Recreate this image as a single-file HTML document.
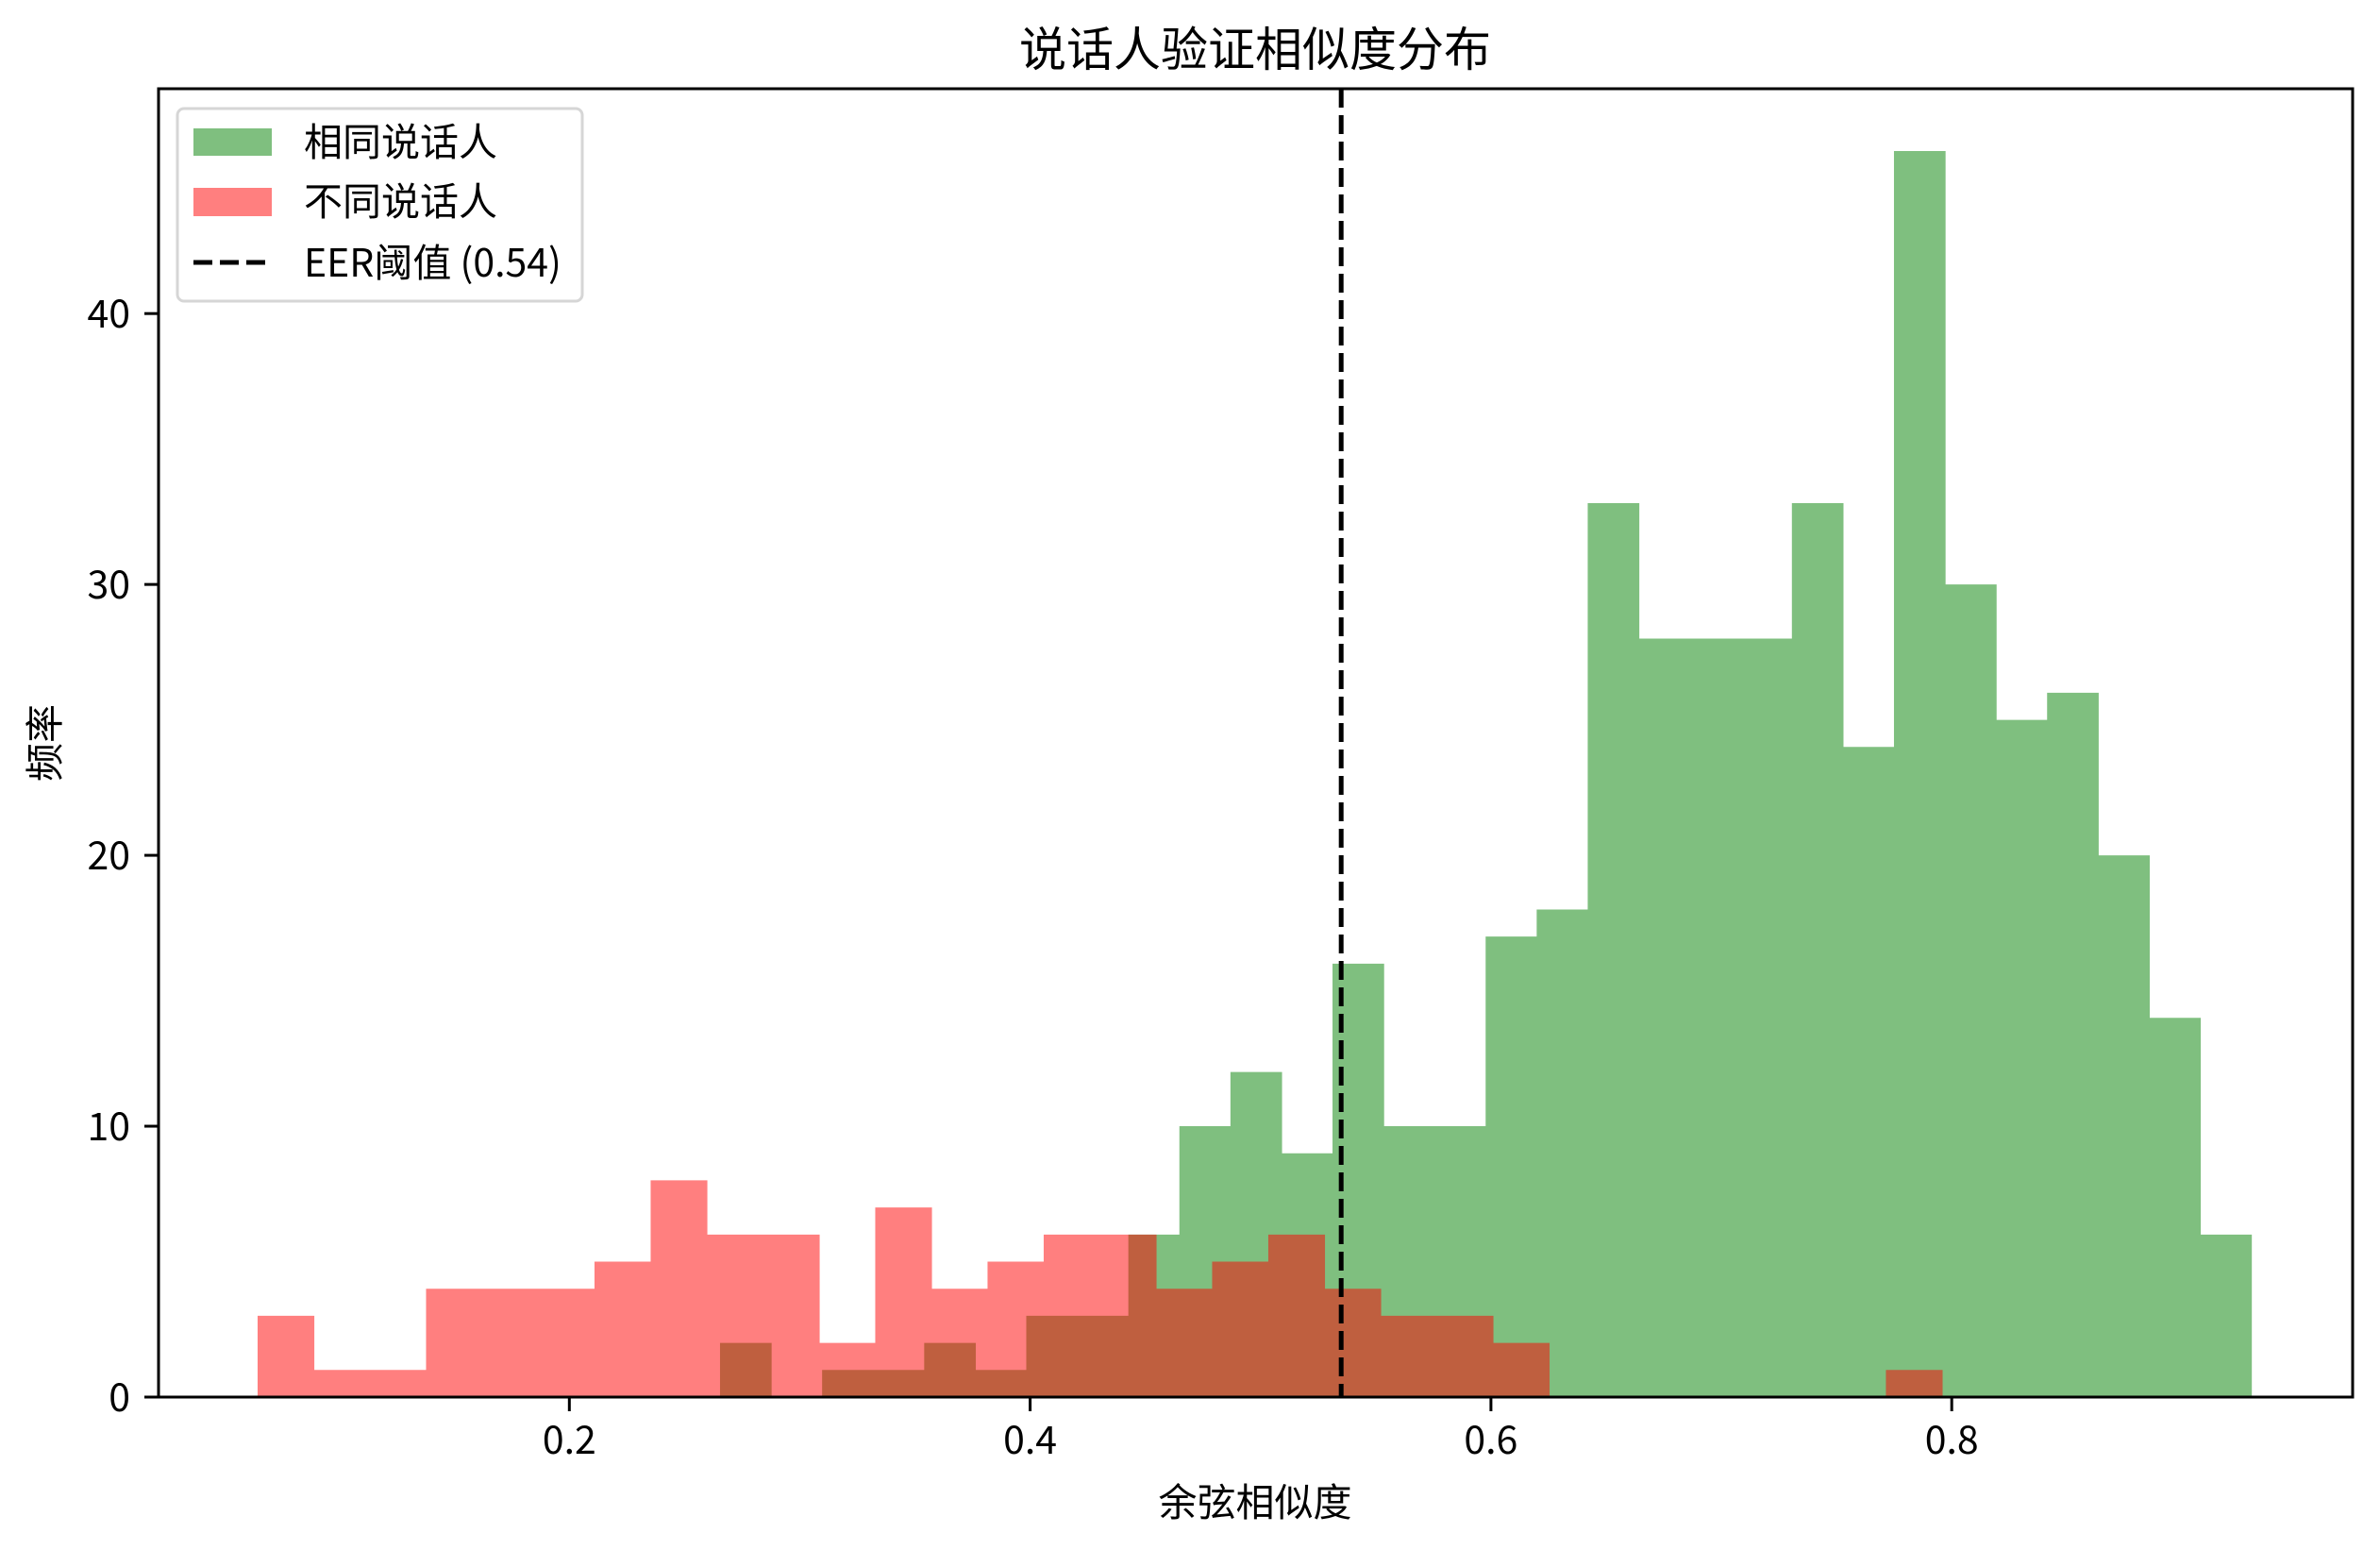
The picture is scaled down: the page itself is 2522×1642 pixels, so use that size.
<!DOCTYPE html>
<html><head><meta charset="utf-8"><style>
html,body{margin:0;padding:0;background:#fff;}
svg{display:block;font-family:"Noto Sans CJK SC","Liberation Sans",sans-serif;}
</style></head><body>
<svg id="chart" width="2522" height="1642" viewBox="0 0 2522 1642" xmlns="http://www.w3.org/2000/svg">
<rect width="2522" height="1642" fill="#fff"/>
<g id="bars"></g>
<g id="axes"></g>
<text x="1330" y="70" font-size="50" text-anchor="middle">说话人验证相似度分布</text>
<text x="1330" y="1606" font-size="41" text-anchor="middle">余弦相似度</text>
<text x="0" y="0" font-size="41" text-anchor="middle" transform="translate(62,787) rotate(-90)">频率</text>
<g>
<rect x="188" y="115" width="429" height="204" rx="7" fill="#fff" fill-opacity="0.8" stroke="#d6d6d6" stroke-width="3"/>
<rect x="205" y="136" width="83" height="29" fill="#008000" fill-opacity="0.5"/>
<text x="322" y="165" font-size="41">相同说话人</text>
<rect x="205" y="199" width="83" height="30" fill="#ff0000" fill-opacity="0.5"/>
<text x="322" y="228" font-size="41">不同说话人</text>
<line x1="205" y1="278" x2="288" y2="278" stroke="#000" stroke-width="5" stroke-dasharray="20,8"/>
<text x="322" y="293" font-size="41">EER阈值 (0.54)</text>
</g>
</svg>
<script>
const sameCounts = [2,0,1,1,2,1,3,3,6,10,12,9,16,10,10,17,18,33,28,28,28,33,24,46,30,25,26,20,14,6];
const sameMin = 0.2654, sameMax = 0.930;
const diffCounts = [3,1,1,4,4,4,5,8,6,6,2,7,4,5,6,6,4,5,6,4,3,3,2,0,0,0,0,0,0,1];
const diffMin = 0.0647, diffBinWidth = 0.02437;
const eerThreshold = 0.535;
const xTicks = [0.2,0.4,0.6,0.8];
const xTickLabels = ["0.2","0.4","0.6","0.8"];
const yTicks = [0,10,20,30,40];
const yTickLabels = ["0","10","20","30","40"];

const NS = "http://www.w3.org/2000/svg";
const L = 168, R = 2493, T = 94, B = 1480;
const xMin = 0.0217, xMax = 0.974, yMax = 48.3;
function xs(v){ return L + (v - xMin) / (xMax - xMin) * (R - L); }
function ys(v){ return B - v / yMax * (B - T); }
function mk(tag, attrs, parent){ const e = document.createElementNS(NS, tag); for (const k in attrs) e.setAttribute(k, attrs[k]); parent.appendChild(e); return e; }

function histPath(counts, start, width){
  let d = '';
  counts.forEach((c, i) => {
    if (!c) return;
    const x0 = xs(start + i * width), x1 = xs(start + (i + 1) * width) + 0.6;
    d += 'M' + x0 + ',' + ys(0) + 'V' + ys(c) + 'H' + x1 + 'V' + ys(0) + 'Z';
  });
  return d;
}
const bars = document.getElementById('bars');
const sameW = (sameMax - sameMin) / sameCounts.length;
const g = mk('path', {d: histPath(sameCounts, sameMin, sameW), fill: '#008000', 'fill-opacity': 0.5, 'fill-rule': 'nonzero'}, bars);


const r = mk('path', {d: histPath(diffCounts, diffMin, diffBinWidth), fill: '#ff0000', 'fill-opacity': 0.5, 'fill-rule': 'nonzero'}, bars);


const eer = mk('line', {x1: xs(eerThreshold), x2: xs(eerThreshold), y1: T, y2: B, stroke: '#000', 'stroke-width': 5, 'stroke-dasharray': '20,8'}, bars);



const axes = document.getElementById('axes');
const frame = mk('rect', {x: L, y: T, width: R - L, height: B - T, fill: 'none', stroke: '#000', 'stroke-width': 3}, axes);


xTicks.forEach((v, i) => {
  const t = mk('line', {x1: xs(v), x2: xs(v), y1: B, y2: B + 15, stroke: '#000', 'stroke-width': 3}, axes);
  
  
  const tx = mk('text', {x: xs(v), y: B + 60, 'font-size': 41, 'text-anchor': 'middle'}, axes);
  tx.textContent = xTickLabels[i];
  
  
});
yTicks.forEach((v, i) => {
  const t = mk('line', {x1: L - 15, x2: L, y1: ys(v), y2: ys(v), stroke: '#000', 'stroke-width': 3}, axes);
  
  
  const tx = mk('text', {x: L - 30, y: ys(v) + 15, 'font-size': 41, 'text-anchor': 'end'}, axes);
  tx.textContent = yTickLabels[i];
  
  
});
</script>
</body></html>
